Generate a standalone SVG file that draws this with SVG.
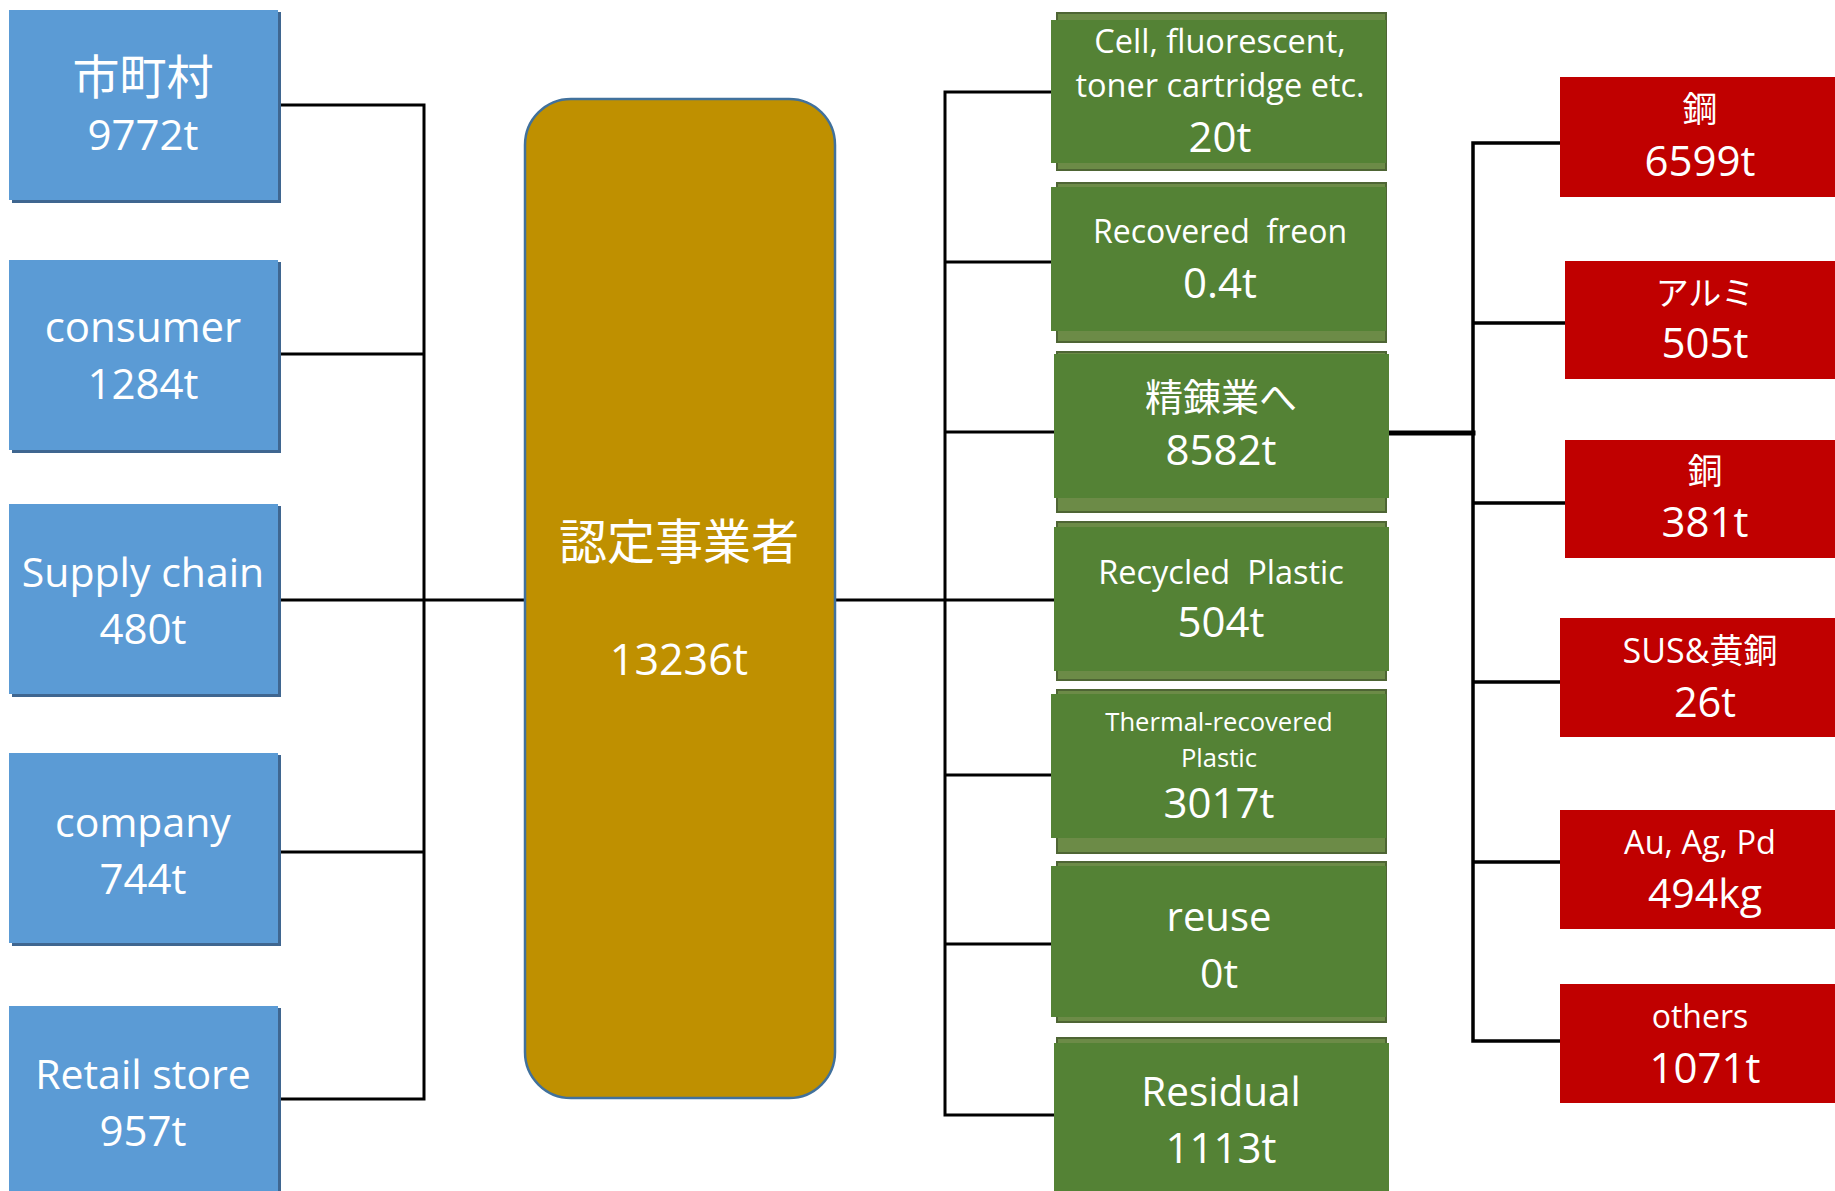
<svg xmlns="http://www.w3.org/2000/svg" width="1835" height="1191" viewBox="0 0 1835 1191">
<style>
  .t { fill: #FFFFFF; font-family: "Open Sans", "Noto Sans CJK JP", sans-serif; text-anchor: middle; white-space: pre; }
  .j { font-family: "Noto Sans CJK JP", "Open Sans", sans-serif; }
  .blue { fill: #5B9BD5; }
  .bshadow { fill: #3F6690; }
  .green { fill: #548235; }
  .gback { fill: #6C8B47; stroke: #4E6534; stroke-width: 2; }
  .red { fill: #C00000; }
  .ln { fill: none; stroke: #000000; stroke-width: 3; stroke-linecap: square; }
</style>
<rect x="0" y="0" width="1835" height="1191" fill="#FFFFFF"/>

<g id="connectors">
  <path class="ln" d="M278 105 H424 V1099 H278 M278 354 H424 M278 600 H525 M278 852 H424"/>
  <path class="ln" d="M835 600 H1054 M945 92 V1115 M945 92 H1051 M945 262 H1051 M945 432 H1054 M945 775 H1051 M945 944 H1051 M945 1115 H1054"/>
  <path class="ln" d="M1389 433 H1473" style="stroke-width:5"/>
  <path class="ln" style="stroke-width:3.5" d="M1473 143 V1041 M1473 143 H1560 M1473 323 H1565 M1473 503 H1565 M1473 682 H1560 M1473 862 H1560 M1473 1041 H1560"/>
</g>

<g id="n-shichoson">
  <rect class="bshadow" x="12" y="12" width="269" height="191"/>
  <rect class="blue" x="9" y="10" width="269" height="190"/>
  <text class="t j" x="143" y="94" font-size="47">市町村</text>
  <text class="t" x="143" y="150" font-size="42">9772t</text>
</g>
<g id="n-consumer">
  <rect class="bshadow" x="12" y="262" width="269" height="191"/>
  <rect class="blue" x="9" y="260" width="269" height="190"/>
  <text class="t" x="143" y="342" font-size="42">consumer</text>
  <text class="t" x="143" y="399" font-size="42">1284t</text>
</g>
<g id="n-supply">
  <rect class="bshadow" x="12" y="506" width="269" height="191"/>
  <rect class="blue" x="9" y="504" width="269" height="190"/>
  <text class="t" x="143" y="587" font-size="41">Supply chain</text>
  <text class="t" x="143" y="644" font-size="42">480t</text>
</g>
<g id="n-company">
  <rect class="bshadow" x="12" y="755" width="269" height="191"/>
  <rect class="blue" x="9" y="753" width="269" height="190"/>
  <text class="t" x="143" y="837" font-size="41">company</text>
  <text class="t" x="143" y="894" font-size="42">744t</text>
</g>
<g id="n-retail">
  <rect class="bshadow" x="12" y="1008" width="269" height="200"/>
  <rect class="blue" x="9" y="1006" width="269" height="200"/>
  <text class="t" x="143" y="1089" font-size="41">Retail store</text>
  <text class="t" x="143" y="1146" font-size="42">957t</text>
</g>

<g id="n-center">
  <rect x="525" y="99" width="310" height="999" rx="46" ry="46" fill="#BF9000" stroke="#41719C" stroke-width="2.5"/>
  <text class="t j" x="679" y="559" font-size="48">認定事業者</text>
  <text class="t" x="679" y="675" font-size="43">13236t</text>
</g>

<g id="n-cell">
  <rect class="gback" x="1057" y="13" width="329" height="157"/>
  <rect class="green" x="1051" y="20" width="335" height="143"/>
  <text class="t" x="1220" y="53" font-size="32.5">Cell, fluorescent,</text>
  <text class="t" x="1220" y="97" font-size="32.5">toner cartridge etc.</text>
  <text class="t" x="1220" y="152" font-size="42">20t</text>
</g>
<g id="n-freon">
  <rect class="gback" x="1057" y="183" width="329" height="159"/>
  <rect class="green" x="1051" y="187" width="335" height="144"/>
  <text class="t" x="1220" y="243" font-size="32">Recovered  freon</text>
  <text class="t" x="1220" y="298" font-size="42">0.4t</text>
</g>
<g id="n-seiren">
  <rect class="gback" x="1057" y="352" width="329" height="160"/>
  <rect class="green" x="1054" y="354" width="335" height="144"/>
  <text class="t j" x="1221" y="411" font-size="38">精錬業へ</text>
  <text class="t" x="1221" y="465" font-size="42">8582t</text>
</g>
<g id="n-recycled">
  <rect class="gback" x="1057" y="522" width="329" height="158"/>
  <rect class="green" x="1054" y="527" width="335" height="144"/>
  <text class="t" x="1221" y="584" font-size="32.5">Recycled  Plastic</text>
  <text class="t" x="1221" y="637" font-size="42">504t</text>
</g>
<g id="n-thermal">
  <rect class="gback" x="1057" y="690" width="329" height="163"/>
  <rect class="green" x="1051" y="694" width="335" height="144"/>
  <text class="t" x="1219" y="731" font-size="25.6">Thermal-recovered</text>
  <text class="t" x="1219" y="767" font-size="25.6">Plastic</text>
  <text class="t" x="1219" y="818" font-size="42">3017t</text>
</g>
<g id="n-reuse">
  <rect class="gback" x="1057" y="862" width="329" height="160"/>
  <rect class="green" x="1051" y="866" width="335" height="151"/>
  <text class="t" x="1219" y="931" font-size="40">reuse</text>
  <text class="t" x="1219" y="988" font-size="41">0t</text>
</g>
<g id="n-residual">
  <rect class="gback" x="1057" y="1038" width="329" height="170"/>
  <rect class="green" x="1054" y="1043" width="335" height="160"/>
  <text class="t" x="1221" y="1106" font-size="40.5">Residual</text>
  <text class="t" x="1221" y="1163" font-size="42">1113t</text>
</g>

<g id="n-kou">
  <rect class="red" x="1560" y="77" width="280" height="120"/>
  <text class="t j" x="1700" y="122" font-size="35">鋼</text>
  <text class="t" x="1700" y="176" font-size="42">6599t</text>
</g>
<g id="n-arumi">
  <rect class="red" x="1565" y="261" width="275" height="118"/>
  <text class="t j" x="1705" y="305" font-size="33">アルミ</text>
  <text class="t" x="1705" y="358" font-size="42">505t</text>
</g>
<g id="n-dou">
  <rect class="red" x="1565" y="440" width="275" height="118"/>
  <text class="t j" x="1705" y="484" font-size="35">銅</text>
  <text class="t" x="1705" y="537" font-size="42">381t</text>
</g>
<g id="n-sus">
  <rect class="red" x="1560" y="618" width="280" height="119"/>
  <text class="t" x="1700" y="663" font-size="34">SUS&amp;黄銅</text>
  <text class="t" x="1705" y="717" font-size="41.5">26t</text>
</g>
<g id="n-auagpd">
  <rect class="red" x="1560" y="810" width="280" height="119"/>
  <text class="t" x="1700" y="854" font-size="32.5">Au, Ag, Pd</text>
  <text class="t" x="1705" y="908" font-size="41">494kg</text>
</g>
<g id="n-others">
  <rect class="red" x="1560" y="984" width="280" height="119"/>
  <text class="t" x="1700" y="1028" font-size="32">others</text>
  <text class="t" x="1705" y="1083" font-size="42">1071t</text>
</g>
</svg>
